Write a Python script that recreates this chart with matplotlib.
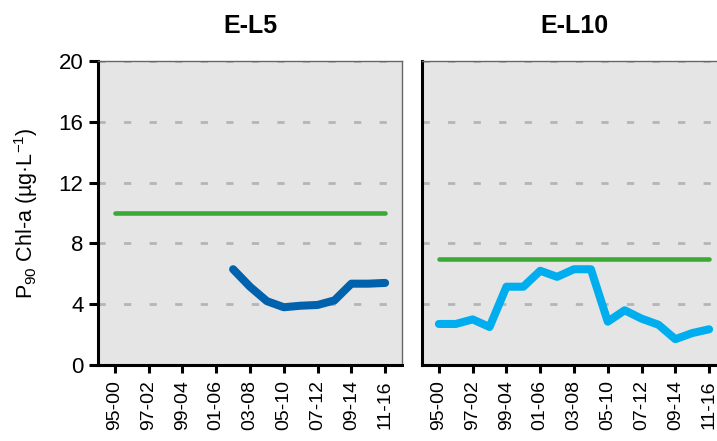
import matplotlib
matplotlib.use("Agg")
import matplotlib.pyplot as plt
import numpy as np

plt.rcParams['font.family'] = ['Liberation Sans', 'DejaVu Sans']
plt.rcParams['mathtext.default'] = 'regular'

# rolling six-year periods
periods = ['95-00', '96-01', '97-02', '98-03', '99-04', '00-05', '01-06', '02-07',
           '03-08', '04-09', '05-10', '06-11', '07-12', '08-13', '09-14', '10-15', '11-16']
tick_labels = periods[::2]

# E-L5 (data only from 02-07 on)
el5_p90 = [np.nan] * 7 + [6.3, 5.15, 4.2, 3.8, 3.9, 3.95, 4.25, 5.35, 5.35, 5.4]
el5_target = 10

# E-L10
el10_p90 = [2.7, 2.7, 3.0, 2.5, 5.15, 5.15, 6.2, 5.8, 6.3, 6.3,
            2.85, 3.6, 3.05, 2.65, 1.7, 2.1, 2.35]
el10_target = 7

panels = [('E-L5', el5_p90, el5_target, '#0062AC'),
          ('E-L10', el10_p90, el10_target, '#00AEEF')]

fig = plt.figure(figsize=(7.17, 4.41), dpi=100)
W, H = 717, 441
lefts = [98, 422]

x = np.arange(len(periods))
for i, (name, vals, target, col) in enumerate(panels):
    ax = fig.add_axes([lefts[i] / W, (H - 365) / H, 304 / W, 304 / H])
    ax.set_facecolor('#E5E5E5')
    for yv in [4, 8, 12, 16, 20]:
        ax.axhline(yv, color='#B5B5B5', lw=2.0, dashes=(2.6, 6.6), zorder=1)
    ax.plot([x[0], x[-1]], [target, target], color='#3AAA35', lw=3.3,
            solid_capstyle='round', zorder=3)
    ax.plot(x, vals, color=col, lw=5.8, solid_capstyle='round',
            solid_joinstyle='round', zorder=4)
    ax.set_xlim(-1, 17)
    ax.set_ylim(0, 20)
    ax.set_xticks(x[::2])
    ax.set_xticklabels(tick_labels, rotation=90, fontsize=14)
    ax.set_yticks([0, 4, 8, 12, 16, 20])
    for s in ['top', 'right']:
        ax.spines[s].set_color('#666666')
        ax.spines[s].set_linewidth(1.0)
    for s in ['left', 'bottom']:
        ax.spines[s].set_color('black')
        ax.spines[s].set_linewidth(2.2)
    ax.tick_params(axis='x', direction='out', length=6, width=2.2, pad=5)
    ax.set_title(name, fontsize=18, fontweight='bold', pad=20)
    if i == 0:
        ax.tick_params(axis='y', direction='out', length=6.5, width=2.2, labelsize=16, pad=4)
        ax.set_ylabel(r'P$_{90}$ Chl-a (µg·L$^{-1}$)', fontsize=15.5)
        ax.yaxis.set_label_coords(-0.19, 0.5)
    else:
        ax.tick_params(axis='y', length=0, labelleft=False)

fig.savefig('out.png', dpi=100)
